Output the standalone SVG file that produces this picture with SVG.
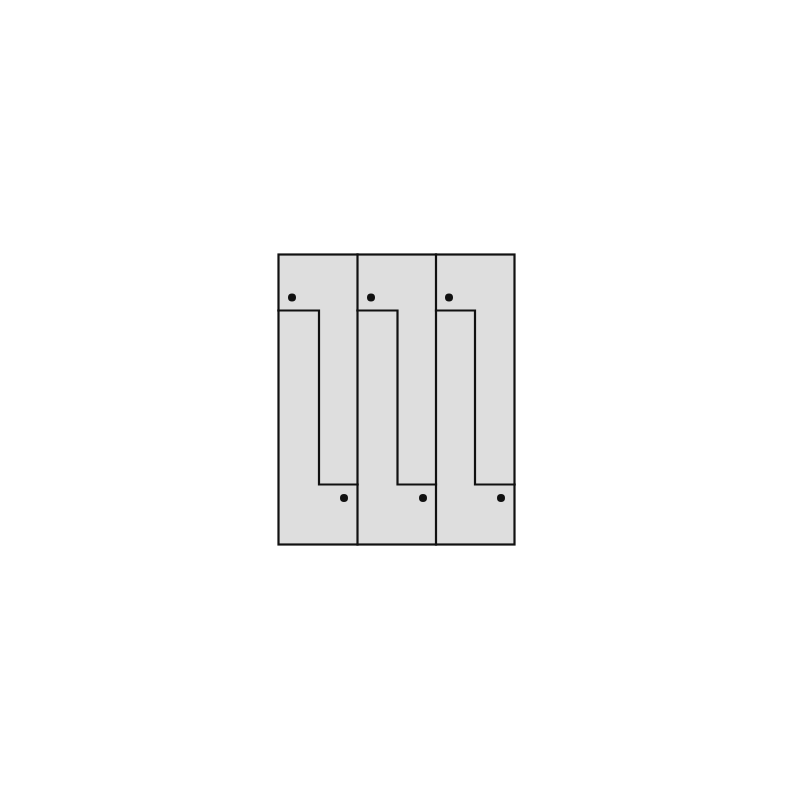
<svg xmlns="http://www.w3.org/2000/svg" width="800" height="800" viewBox="0 0 800 800">
<style>
.ln{fill:none;stroke:#111;stroke-width:2.2;stroke-linecap:square}
.box{fill:#dedede;stroke:#111;stroke-width:2.2}
.dot{fill:#111}
</style>
<rect width="800" height="800" fill="#fff"/>
<g id="frame">
<rect x="278.5" y="254.5" width="236" height="290" class="box"/>
</g>
<g id="connectors">
<line class="ln" x1="357.5" y1="254.5" x2="357.5" y2="544.5"/>
<line class="ln" x1="436" y1="254.5" x2="436" y2="544.5"/>
<path class="ln" d="M278.5 310.5 H319 V484.5 H357.5"/>
<path class="ln" d="M357.5 310.5 H397.5 V484.5 H436"/>
<path class="ln" d="M436 310.5 H475 V484.5 H514.5"/>
</g>
<g id="dots">
<circle class="dot" cx="292" cy="297.5" r="4"/>
<circle class="dot" cx="344" cy="498" r="4"/>
<circle class="dot" cx="371" cy="297.5" r="4"/>
<circle class="dot" cx="423" cy="498" r="4"/>
<circle class="dot" cx="449" cy="297.5" r="4"/>
<circle class="dot" cx="501" cy="498" r="4"/>
</g>
</svg>
